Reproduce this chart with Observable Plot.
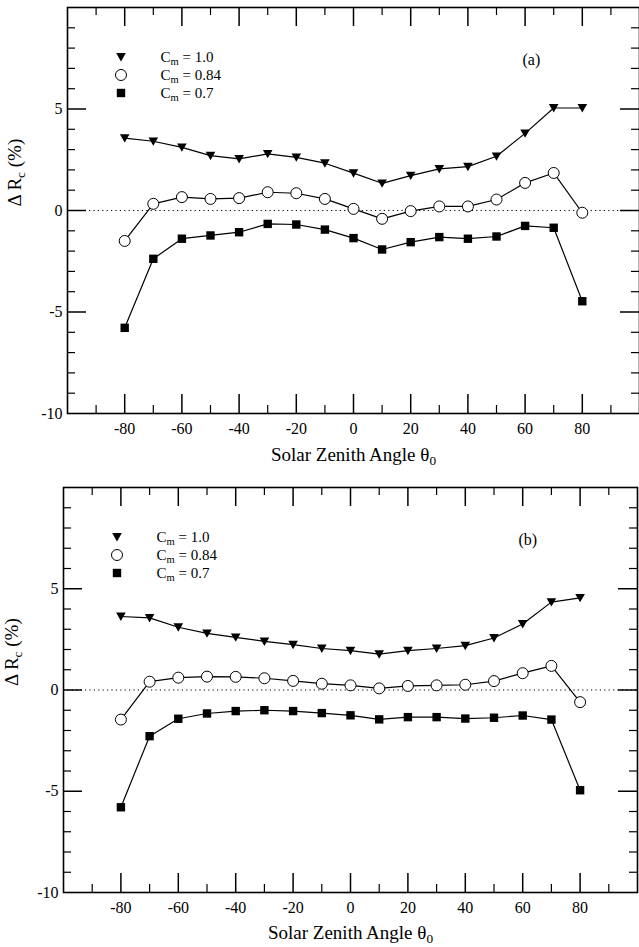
<!DOCTYPE html>
<html><head><meta charset="utf-8">
<script src="https://cdn.jsdelivr.net/npm/d3@7"></script>
<script src="https://cdn.jsdelivr.net/npm/@observablehq/plot@0.6"></script>
<style>body{margin:0;background:#fff;} svg{display:block;}</style>
</head><body><div id="chart"></div>
<script>
// ---- data ----
const angles = [-80,-70,-60,-50,-40,-30,-20,-10,0,10,20,30,40,50,60,70,80];
const seriesNames = ["C_m = 1.0", "C_m = 0.84", "C_m = 0.7"];
const panelLabels = ["(a)", "(b)"];
const panelA_cm100 = [3.57,3.41,3.11,2.70,2.54,2.79,2.62,2.33,1.84,1.34,1.72,2.05,2.16,2.67,3.80,5.05,5.05];
const panelA_cm084 = [-1.50,0.33,0.66,0.57,0.61,0.90,0.85,0.57,0.08,-0.41,-0.03,0.20,0.20,0.54,1.36,1.85,-0.11];
const panelA_cm070 = [-5.78,-2.38,-1.39,-1.23,-1.07,-0.66,-0.69,-0.94,-1.36,-1.92,-1.56,-1.31,-1.39,-1.28,-0.76,-0.85,-4.47];
const panelB_cm100 = [3.63,3.56,3.10,2.80,2.60,2.40,2.24,2.05,1.94,1.77,1.94,2.05,2.19,2.57,3.26,4.34,4.55];
const panelB_cm084 = [-1.46,0.41,0.61,0.66,0.65,0.58,0.45,0.31,0.23,0.08,0.20,0.23,0.26,0.44,0.83,1.19,-0.60];
const panelB_cm070 = [-5.79,-2.28,-1.42,-1.16,-1.04,-1.00,-1.04,-1.14,-1.25,-1.45,-1.34,-1.34,-1.41,-1.37,-1.26,-1.46,-4.95];
const xMajorTicks = [-80,-60,-40,-20,0,20,40,60,80];
const xMinorTicks = [-90,-70,-50,-30,-10,10,30,50,70,90];
const xTickLabels = [-80,-60,-40,-20,0,20,40,60,80];
const yMajorTicks = [-5,0,5];
const yMinorTicks = [-9,-8,-7,-6,-4,-3,-2,-1,1,2,3,4,6,7,8,9];
const yTickLabels = [-10,-5,0,5];
const xTitle = "Solar Zenith Angle θ_0";
const yTitle = "Δ R_c (%)";

// ---- symbols ----
const triDown = {draw(c){ c.moveTo(-4.8,-3.9); c.lineTo(4.8,-3.9); c.lineTo(0,4.5); c.closePath(); }};
const squareSym = {draw(c){ c.rect(-4.2,-4.2,8.4,8.4); }};
const circleSym = {draw(c){ c.moveTo(5.5,0); c.arc(0,0,5.5,0,2*Math.PI); c.closePath(); }};
const styles = [
  {symbol: triDown, fill: "black", stroke: "none"},
  {symbol: circleSym, fill: "white", stroke: "black"},
  {symbol: squareSym, fill: "black", stroke: "none"}
];
const FONT = "'Liberation Serif', 'Times New Roman', Times, serif";

function subscripts(svg) {
  d3.select(svg).selectAll("text").each(function() {
    const t = this.textContent;
    if (!t.includes("_")) return;
    const parts = t.split(/_(\w)/);
    const sel = d3.select(this);
    sel.text(null);
    let afterSub = false;
    parts.forEach((p, i) => {
      if (i % 2 === 1) {
        sel.append("tspan").attr("font-size", "70%").attr("dy", "0.3em").text(p);
        afterSub = true;
      } else if (p) {
        const ts = sel.append("tspan").text(p);
        if (afterSub) ts.attr("dy", "-0.21em");
        afterSub = false;
      }
    });
  });
}

function panel({label, vals, height, marginLeft, marginRight, marginTop, marginBottom, yTitleDx, yTitleDy, xTitleDy}) {
  const H = height - marginTop - marginBottom;
  const W = 639 - marginLeft - marginRight;
  const rows = vals.flatMap((arr, s) => arr.map((v, i) => ({angle: angles[i], value: v, s})));
  const marks = [
    Plot.ruleY([0], {strokeDasharray: "1.2,3.2", strokeWidth: 1.1}),
    Plot.tickX(xMajorTicks, {x: d => d, insetTop: H - 19, strokeWidth: 1.5}),
    Plot.tickX(xMajorTicks, {x: d => d, insetBottom: H - 19, strokeWidth: 1.5}),
    Plot.tickX(xMinorTicks, {x: d => d, insetTop: H - 8, strokeWidth: 1.2}),
    Plot.tickX(xMinorTicks, {x: d => d, insetBottom: H - 8, strokeWidth: 1.2}),
    Plot.tickY(yMajorTicks, {y: d => d, insetRight: W - 19, strokeWidth: 1.5}),
    Plot.tickY(yMajorTicks, {y: d => d, insetLeft: W - 19, strokeWidth: 1.5}),
    Plot.tickY(yMinorTicks, {y: d => d, insetRight: W - 8, strokeWidth: 1.2}),
    Plot.tickY(yMinorTicks, {y: d => d, insetLeft: W - 8, strokeWidth: 1.2}),
    Plot.line(rows, {x: "angle", y: "value", z: "s", stroke: "black", strokeWidth: 1.2}),
    ...styles.map((st, s) => Plot.dot(rows.filter(d => d.s === s), {x: "angle", y: "value", symbol: st.symbol, fill: st.fill, stroke: st.stroke, strokeWidth: 1})),
    ...styles.map((st, s) => Plot.dot([seriesNames[s]], {frameAnchor: "top-left", dx: 53.5, dy: 49.5 + 18 * s, symbol: st.symbol, fill: st.fill, stroke: st.stroke, strokeWidth: 1})),
    ...seriesNames.map((name, s) => Plot.text([name], {frameAnchor: "top-left", dx: 93, dy: 49.5 + 18 * s, textAnchor: "start", lineAnchor: "middle", fontSize: 15, fill: "black"})),
    Plot.text([label], {frameAnchor: "top-left", dx: 455, dy: 52, lineAnchor: "middle", fontSize: 16, fill: "black"}),
    Plot.text(xTickLabels, {x: d => d, text: d => String(d), frameAnchor: "bottom", dy: 15, lineAnchor: "middle", fontSize: 16, fill: "black"}),
    Plot.text(yTickLabels, {y: d => d, text: d => String(d), frameAnchor: "left", dx: -5, textAnchor: "end", lineAnchor: "middle", fontSize: 16, fill: "black"}),
    Plot.text([xTitle], {frameAnchor: "bottom", dy: xTitleDy, lineAnchor: "middle", fontSize: 19, fill: "black"}),
    Plot.text([yTitle], {frameAnchor: "left", dx: yTitleDx, dy: yTitleDy, rotate: -90, lineAnchor: "middle", fontSize: 19, fill: "black"}),
    Plot.frame({stroke: "black", strokeWidth: 1.6})
  ];
  const svg = Plot.plot({
    width: 639, height, marginLeft, marginRight, marginTop, marginBottom,
    x: {domain: [-100, 100], axis: null},
    y: {domain: [-10, 10], axis: null},
    style: {fontFamily: FONT, background: "white", color: "black", overflow: "visible"},
    marks
  });
  subscripts(svg);
  return svg;
}

const chart = document.getElementById("chart");
chart.append(panel({label: panelLabels[0], vals: [panelA_cm100, panelA_cm084, panelA_cm070], height: 475, marginLeft: 67, marginRight: 0, marginTop: 7, marginBottom: 62, yTitleDx: -53, yTitleDy: -4, xTitleDy: 41}));
chart.append(panel({label: panelLabels[1], vals: [panelB_cm100, panelB_cm084, panelB_cm070], height: 472, marginLeft: 63, marginRight: 2, marginTop: 12, marginBottom: 55, yTitleDx: -52, yTitleDy: -4, xTitleDy: 40}));
</script>
</body></html>
